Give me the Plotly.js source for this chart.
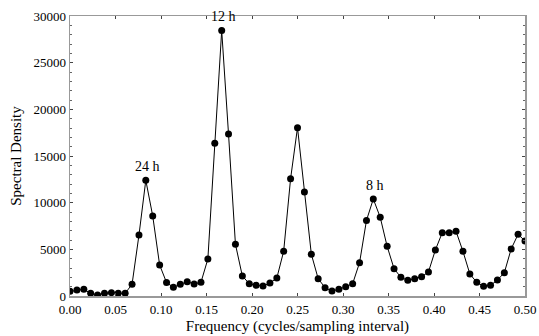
<!DOCTYPE html>
<html>
<head>
<meta charset="utf-8">
<script src="https://cdn.plot.ly/plotly-3.0.1.min.js"></script>
<style>html,body{margin:0;padding:0;background:#fff;}#chart{width:539px;height:336px;}</style>
</head>
<body>
<div id="chart"></div>
<script>
var frequency = [0, 0.0076, 0.0152, 0.0227, 0.0303, 0.0379, 0.0455, 0.0530, 0.0606, 0.0682,
  0.0758, 0.0833, 0.0909, 0.0985, 0.1061, 0.1136, 0.1212, 0.1288, 0.1364, 0.1439,
  0.1515, 0.1591, 0.1667, 0.1742, 0.1818, 0.1894, 0.1970, 0.2045, 0.2121, 0.2197,
  0.2273, 0.2348, 0.2424, 0.2500, 0.2576, 0.2652, 0.2727, 0.2803, 0.2879, 0.2955,
  0.3030, 0.3106, 0.3182, 0.3258, 0.3333, 0.3409, 0.3485, 0.3561, 0.3636, 0.3712,
  0.3788, 0.3864, 0.3939, 0.4015, 0.4091, 0.4167, 0.4242, 0.4318, 0.4394, 0.4470,
  0.4545, 0.4621, 0.4697, 0.4773, 0.4848, 0.4924, 0.5000];
var spectralDensity = [500, 640, 710, 290, 110, 290, 360, 290, 290, 1250,
  6540, 12400, 8570, 3320, 1440, 930, 1250, 1540, 1290, 1460,
  3960, 16360, 28450, 17360, 5540, 2140, 1320, 1140, 1070, 1390,
  1930, 4790, 12570, 18040, 11140, 4480, 1860, 890, 535, 710,
  1000, 1320, 3570, 8100, 10390, 8430, 5320, 2930, 2000, 1680,
  1860, 2070, 2570, 4930, 6790, 6790, 6930, 4790, 2360, 1460,
  1040, 1140, 1710, 2500, 5040, 6610, 5890];
var peakLabels = ["24 h", "12 h", "8 h"];
var peakFreq = [0.0833, 0.1667, 0.3333];
var peakValue = [12400, 28450, 10390];
var xTickVals = [0, 0.05, 0.10, 0.15, 0.20, 0.25, 0.30, 0.35, 0.40, 0.45, 0.50];
var xTickText = ["0.00", "0.05", "0.10", "0.15", "0.20", "0.25", "0.30", "0.35", "0.40", "0.45", "0.50"];

var serif = "Liberation Serif";

var trace = {
  x: frequency, y: spectralDensity, type: "scatter", mode: "lines+markers",
  line: {color: "#000", width: 1},
  marker: {color: "#000", size: 7},
  cliponaxis: true
};

var annotations = peakLabels.map(function (t, i) {
  return {x: peakFreq[i], y: peakValue[i], text: t, showarrow: false,
    xanchor: "center", yanchor: "bottom", yshift: 4, xshift: 2,
    font: {family: serif, size: 14, color: "#000"}};
});

var layout = {
  width: 539, height: 336,
  margin: {l: 70, r: 14, t: 16, b: 40},
  paper_bgcolor: "#fff", plot_bgcolor: "#fff",
  showlegend: false,
  font: {family: serif, size: 13, color: "#000"},
  xaxis: {
    range: [0, 0.5], tickvals: xTickVals, ticktext: xTickText,
    showgrid: false, zeroline: false, showline: true, linecolor: "#999", linewidth: 1.5,
    mirror: "ticks", ticks: "inside", ticklen: 3, tickcolor: "#444", tickwidth: 1,
    ticklabelstandoff: 1,
    tickfont: {family: serif, size: 13, color: "#000"},
    title: {text: "Frequency (cycles/sampling interval)", font: {family: serif, size: 15, color: "#000"}, standoff: 4},
    automargin: false
  },
  yaxis: {
    range: [0, 30000], dtick: 5000, tickformat: "d",
    showgrid: false, zeroline: false, showline: true, linecolor: "#999", linewidth: 1.5,
    mirror: "ticks", ticks: "inside", ticklen: 3, tickcolor: "#444", tickwidth: 1,
    minor: {dtick: 1000, ticks: "inside", ticklen: 2, tickcolor: "#666", showgrid: false},
    tickfont: {family: serif, size: 13, color: "#000"},
    title: {text: "Spectral Density", font: {family: serif, size: 15, color: "#000"}, standoff: 8},
    automargin: false
  },
  annotations: annotations
};

Plotly.newPlot("chart", [trace], layout, {displayModeBar: false, staticPlot: true});
</script>
</body>
</html>
